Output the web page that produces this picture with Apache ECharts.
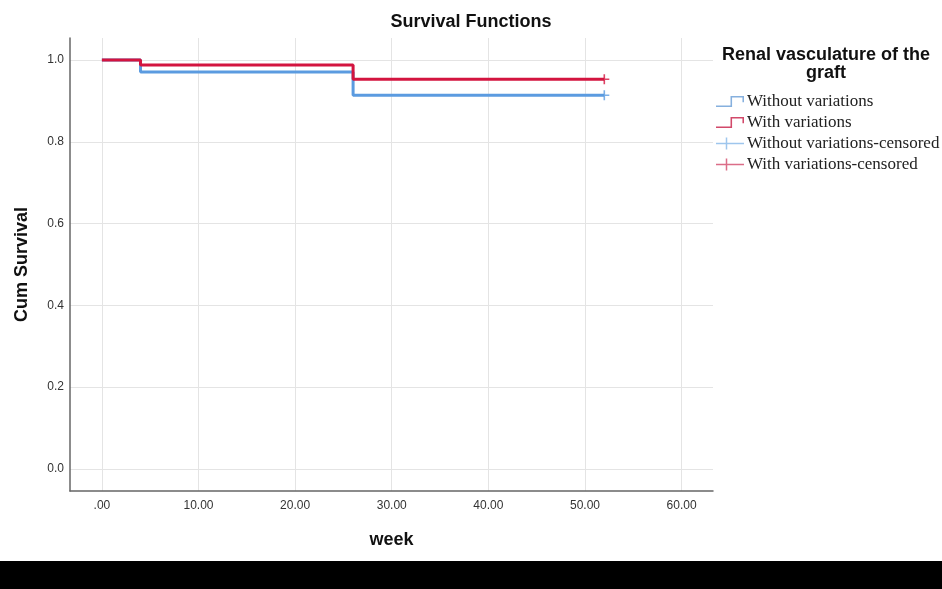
<!DOCTYPE html>
<html>
<head>
<meta charset="utf-8">
<script src="https://cdn.jsdelivr.net/npm/echarts@6/dist/echarts.min.js"></script>
<style>
  html, body { margin: 0; padding: 0; background: #fff; }
  #chart { width: 942px; height: 589px; }
</style>
</head>
<body>
<div id="chart"></div>
<script>
// Kaplan-Meier estimates by renal vasculature of the graft (time in weeks)
const withoutWeeks = [0, 4, 26, 52];
const withoutSurv  = [1.0, 0.971, 0.914, 0.914];
const withWeeks    = [0, 4, 26, 52];
const withSurv     = [1.0, 0.988, 0.953, 0.953];
// censored observations at end of follow-up
const withoutCensored = [[52, 0.914]];
const withCensored    = [[52, 0.953]];

const xTicks = [0, 10, 20, 30, 40, 50, 60];
const yTicks = [0, 0.2, 0.4, 0.6, 0.8, 1.0];

const seriesNames = ['Without variations', 'With variations',
  'Without variations-censored', 'With variations-censored'];

const BLUE = '#5b9be0';
const RED = '#d3143f';

const stepIcon = 'path://M0 10 L14 10 L14 1 L27 1 L27 7 L25.5 7 L25.5 2.5 L15.5 2.5 L15.5 11.5 L0 11.5 Z';
const plusIcon = 'path://M0 5.25 L9.75 5.25 L9.75 0 L11.25 0 L11.25 5.25 L28 5.25 L28 6.75 L11.25 6.75 L11.25 12 L9.75 12 L9.75 6.75 L0 6.75 Z';
const plusMark = 'path://M0 4.2 L4.2 4.2 L4.2 0 L5.8 0 L5.8 4.2 L10 4.2 L10 5.8 L5.8 5.8 L5.8 10 L4.2 10 L4.2 5.8 L0 5.8 Z';

const zip = (xs, ys) => xs.map((x, i) => [x, ys[i]]);

const boldFont = { fontFamily: 'Liberation Sans, Arial', fontSize: 18, fontWeight: 'bold', color: '#111' };

const chart = echarts.init(document.getElementById('chart'));
chart.setOption({
  animation: false,
  backgroundColor: '#fff',
  title: {
    text: 'Survival Functions',
    left: 'center',
    top: 8,
    textStyle: boldFont
  },
  legend: {
    orient: 'vertical',
    left: 711,
    top: 88,
    itemWidth: 28,
    itemHeight: 12,
    itemGap: 4,
    textStyle: { fontFamily: 'Liberation Serif, Times New Roman, serif', fontSize: 17, lineHeight: 17, color: '#222', padding: [0, 0, 0, -2] },
    data: [
      { name: seriesNames[0], icon: stepIcon, itemStyle: { color: '#86b0de' } },
      { name: seriesNames[1], icon: stepIcon, itemStyle: { color: '#d2496a' } },
      { name: seriesNames[2], icon: plusIcon, itemStyle: { color: '#86b8e8' } },
      { name: seriesNames[3], icon: plusIcon, itemStyle: { color: '#d2496a' } }
    ]
  },
  graphic: [
    {
      type: 'text',
      left: 826 - 110,
      top: 46,
      style: {
        text: 'Renal vasculature of the\ngraft',
        width: 220,
        align: 'center',
        textAlign: 'center',
        x: 110,
        font: 'bold 18px "Liberation Sans", Arial',
        lineHeight: 18,
        fill: '#111'
      }
    },
    {
      type: 'rect',
      left: 0,
      top: 561,
      shape: { width: 942, height: 28 },
      style: { fill: '#000' },
      z: 10
    }
  ],
  grid: { left: 70, right: 229, top: 38, bottom: 98 },
  xAxis: {
    type: 'value',
    min: -3.3,
    max: 63.25,
    name: 'week',
    nameLocation: 'middle',
    nameGap: 40,
    nameTextStyle: boldFont,
    axisLine: { show: true, onZero: false, lineStyle: { color: '#666', width: 1.5 } },
    axisTick: { show: false, customValues: xTicks },
    axisLabel: {
      customValues: xTicks,
      margin: 9,
      fontFamily: 'Liberation Sans, Arial',
      fontSize: 12,
      color: '#333',
      formatter: v => v === 0 ? '.00' : v.toFixed(2)
    },
    splitLine: { show: true, lineStyle: { color: '#e4e4e4', width: 1 } }
  },
  yAxis: {
    type: 'value',
    min: -0.054,
    max: 1.054,
    name: 'Cum Survival',
    nameLocation: 'middle',
    nameGap: 39,
    nameTextStyle: boldFont,
    axisLine: { show: true, onZero: false, lineStyle: { color: '#666', width: 1.5 } },
    axisTick: { show: false, customValues: yTicks },
    axisLabel: {
      customValues: yTicks,
      margin: 6,
      fontFamily: 'Liberation Sans, Arial',
      fontSize: 12,
      color: '#333',
      formatter: v => v.toFixed(1)
    },
    splitLine: { show: true, lineStyle: { color: '#e4e4e4', width: 1 } }
  },
  series: [
    {
      name: seriesNames[0],
      type: 'line',
      step: 'end',
      data: zip(withoutWeeks, withoutSurv),
      showSymbol: false,
      color: BLUE,
      lineStyle: { color: BLUE, width: 3 },
      z: 2
    },
    {
      name: seriesNames[1],
      type: 'line',
      step: 'end',
      data: zip(withWeeks, withSurv),
      showSymbol: false,
      color: RED,
      lineStyle: { color: RED, width: 3 },
      z: 3
    },
    {
      name: seriesNames[2],
      type: 'scatter',
      data: withoutCensored,
      symbol: plusMark,
      symbolSize: 10,
      itemStyle: { color: BLUE },
      z: 4
    },
    {
      name: seriesNames[3],
      type: 'scatter',
      data: withCensored,
      symbol: plusMark,
      symbolSize: 10,
      itemStyle: { color: RED },
      z: 4
    }
  ]
});
</script>
</body>
</html>
